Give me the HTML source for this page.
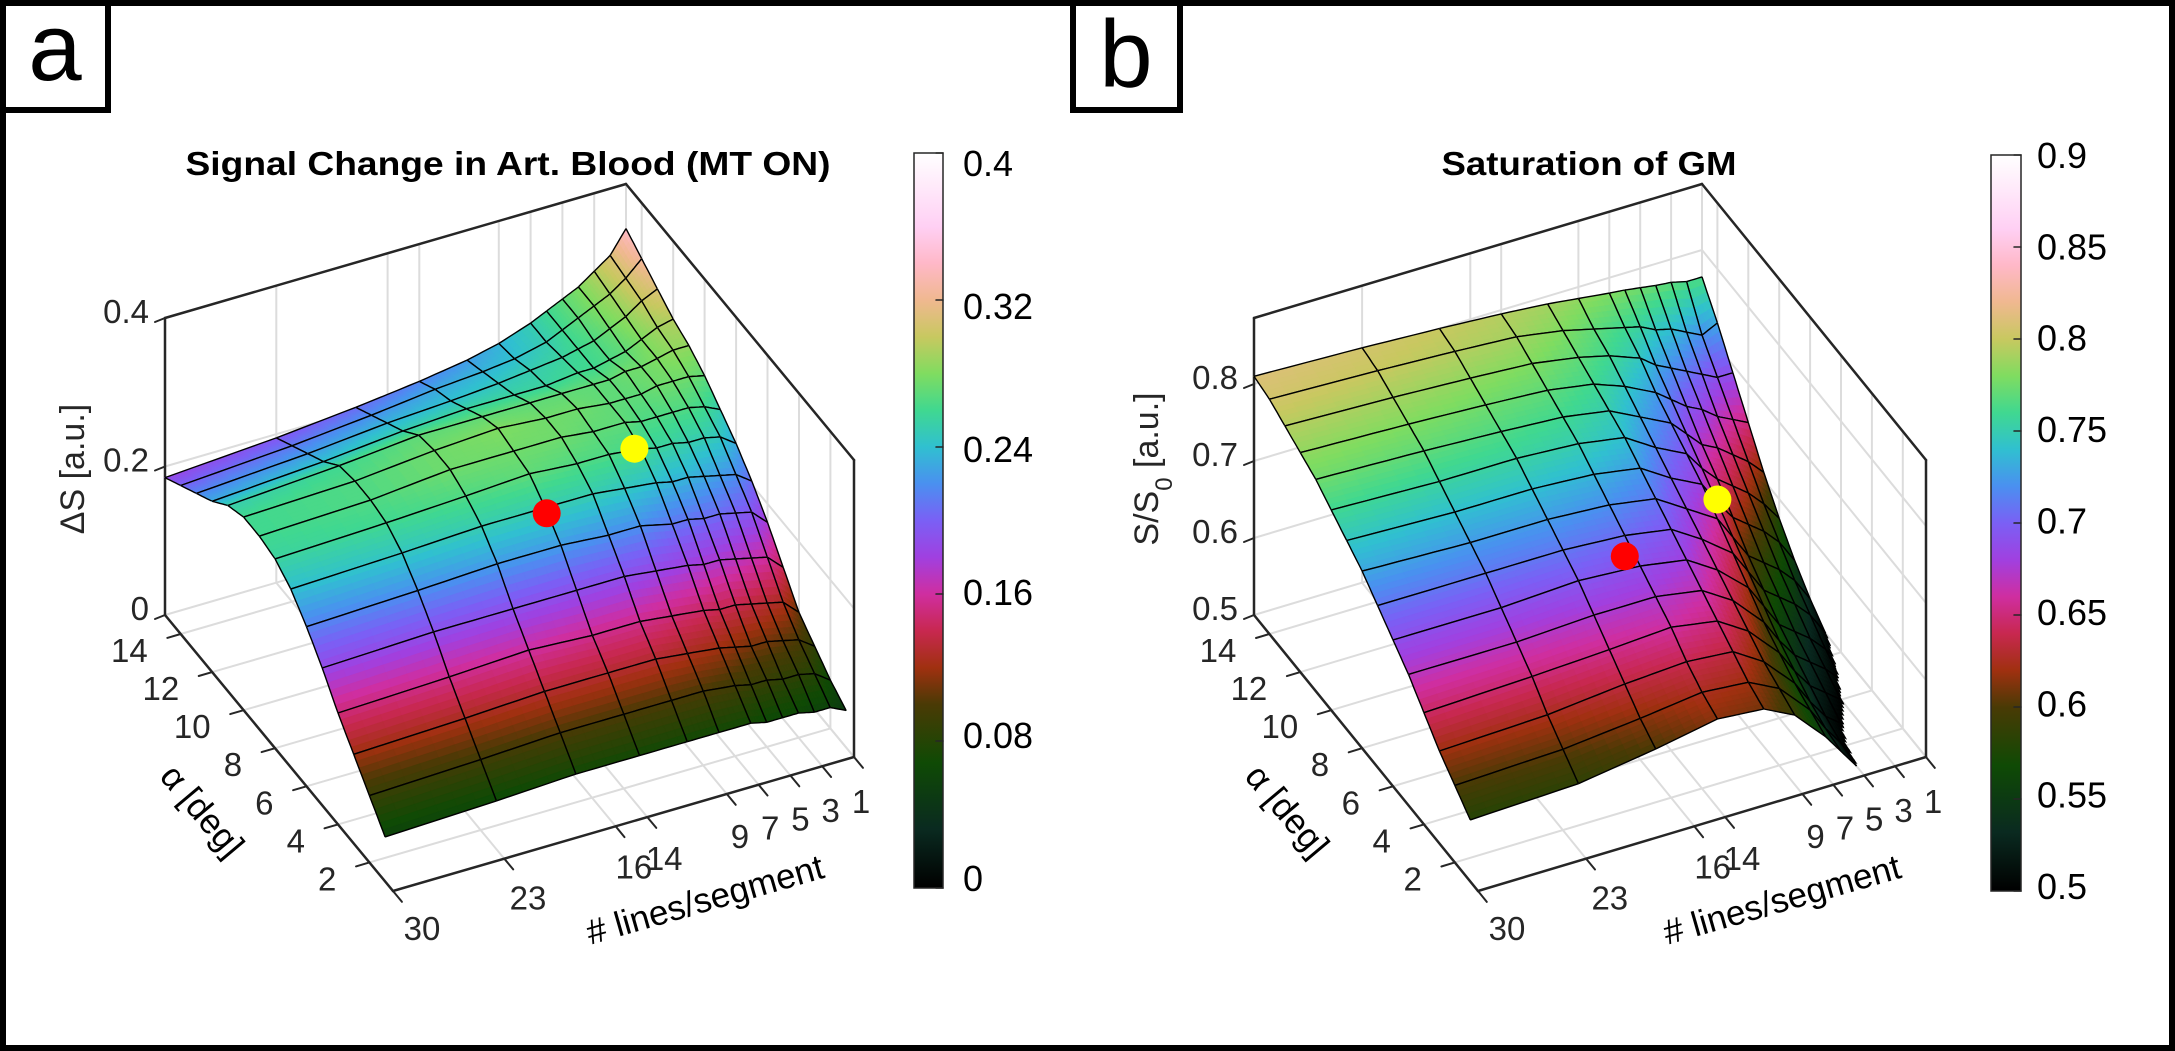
<!DOCTYPE html>
<html><head><meta charset="utf-8"><style>
html,body{margin:0;padding:0;background:#fff;}
svg{display:block;font-family:"Liberation Sans",Arial,sans-serif;}
</style></head><body>
<svg id="fig" width="2175" height="1051" viewBox="0 0 2175 1051" xmlns="http://www.w3.org/2000/svg">
<defs>
<linearGradient id="cbgrad" x1="0" y1="1" x2="0" y2="0">
<stop offset="0" stop-color="#000000"/><stop offset="0.08" stop-color="#0a2a20"/><stop offset="0.17" stop-color="#0f4a05"/><stop offset="0.25" stop-color="#4a3a05"/><stop offset="0.30" stop-color="#a03010"/><stop offset="0.35" stop-color="#c82850"/><stop offset="0.40" stop-color="#cf2ea0"/><stop offset="0.45" stop-color="#a040e0"/><stop offset="0.50" stop-color="#7a60f5"/><stop offset="0.55" stop-color="#4a90f0"/><stop offset="0.60" stop-color="#30c0d0"/><stop offset="0.65" stop-color="#40d890"/><stop offset="0.70" stop-color="#80dc60"/><stop offset="0.75" stop-color="#c8c860"/><stop offset="0.80" stop-color="#f0b890"/><stop offset="0.85" stop-color="#ffb8c8"/><stop offset="0.90" stop-color="#ffd0f4"/><stop offset="1" stop-color="#ffffff"/>
</linearGradient>
</defs>
<rect x="3" y="3" width="2169" height="1045" fill="none" stroke="#000" stroke-width="6"/>
<rect x="3" y="3" width="105" height="107" fill="#fff" stroke="#000" stroke-width="6"/>
<text x="55" y="80" font-size="96" text-anchor="middle">a</text>
<rect x="1073" y="3" width="107" height="107" fill="#fff" stroke="#000" stroke-width="6"/>
<text x="1126" y="87" font-size="96" text-anchor="middle">b</text>
<text x="508" y="175" font-size="33" font-weight="bold" text-anchor="middle" textLength="645" lengthAdjust="spacingAndGlyphs">Signal Change in Art. Blood (MT ON)</text>
<text x="1589" y="175" font-size="33" font-weight="bold" text-anchor="middle" textLength="295" lengthAdjust="spacingAndGlyphs">Saturation of GM</text>
<text transform="translate(84,469) rotate(-90)" font-size="34" fill="#262626" text-anchor="middle">ΔS [a.u.]</text>
<text transform="translate(1158,469) rotate(-90)" font-size="34" fill="#262626" text-anchor="middle">S/S<tspan baseline-shift="sub" font-size="24">0</tspan> [a.u.]</text>
<text transform="translate(202,811) rotate(50)" font-size="35" fill="#000" text-anchor="middle" dominant-baseline="central">α [deg]</text>
<text transform="translate(1287,811) rotate(50)" font-size="35" fill="#000" text-anchor="middle" dominant-baseline="central">α [deg]</text>
<text transform="translate(705,900) rotate(-16)" font-size="35" fill="#000" text-anchor="middle" dominant-baseline="central"># lines/segment</text>
<text transform="translate(1782,900) rotate(-16)" font-size="35" fill="#000" text-anchor="middle" dominant-baseline="central"># lines/segment</text>
<g id="pa"></g>
<g id="pb"></g>
</svg>
<script>
// ---- data ----
const nVals = [1,2,3,4,5,6,7,9,11,14,18,23,30];
const alphaVals = [1,2,3,4,5,6,7,8,9,10,11,12,13,14,15];
// panel a: columns (per n) of ΔS over alpha 1..15
const dsN1  = [.05,.065,.085,.105,.14,.175,.205,.23,.25,.27,.285,.295,.31,.325,.34];
const dsN2  = [.06,.08,.10,.125,.16,.195,.22,.245,.26,.275,.285,.29,.30,.305,.31];
const dsN3  = [.06,.085,.105,.13,.165,.20,.225,.25,.265,.275,.28,.28,.285,.29,.295];
const dsN4  = [.065,.085,.11,.135,.17,.205,.23,.25,.265,.275,.275,.27,.275,.28,.28];
const dsN5  = [.065,.09,.11,.14,.175,.205,.235,.255,.265,.27,.275,.265,.265,.27,.27];
const dsN6  = [.065,.09,.115,.14,.175,.21,.235,.255,.265,.27,.27,.26,.26,.26,.26];
const dsN7  = [.07,.095,.12,.145,.18,.21,.24,.26,.27,.27,.27,.26,.255,.25,.25];
const dsN9  = [.07,.10,.125,.15,.185,.22,.245,.265,.27,.275,.27,.255,.25,.24,.235];
const dsN11 = [.07,.10,.13,.155,.19,.22,.25,.265,.275,.275,.27,.255,.245,.235,.225];
const dsN14 = [.07,.10,.13,.155,.19,.225,.25,.27,.275,.28,.27,.255,.24,.23,.215];
const dsN18 = [.07,.10,.13,.16,.19,.225,.25,.265,.275,.275,.27,.25,.235,.22,.205];
const dsN23 = [.065,.095,.125,.155,.19,.22,.245,.26,.265,.265,.26,.24,.225,.21,.195];
const dsN30 = [.06,.09,.12,.15,.185,.215,.24,.255,.26,.26,.25,.23,.215,.20,.185];
// panel b: columns (per n) of S/S0 over alpha 1..15
const ssN1  = [.43,.44,.45,.46,.47,.485,.50,.52,.545,.575,.61,.65,.69,.73,.765];
const ssN2  = [.45,.46,.47,.48,.495,.51,.53,.55,.575,.60,.63,.66,.69,.72,.765];
const ssN3  = [.47,.48,.49,.50,.515,.53,.55,.57,.595,.62,.645,.67,.70,.73,.77];
const ssN4  = [.485,.49,.50,.515,.53,.545,.565,.585,.61,.635,.66,.685,.71,.74,.772];
const ssN5  = [.50,.505,.515,.53,.545,.56,.58,.60,.625,.65,.67,.695,.72,.745,.775];
const ssN6  = [.525,.53,.54,.555,.57,.59,.61,.63,.65,.67,.69,.71,.73,.755,.778];
const ssN7  = [.55,.56,.57,.585,.60,.62,.64,.66,.68,.695,.71,.725,.745,.76,.78];
const ssN9  = [.59,.60,.61,.625,.64,.655,.67,.685,.70,.715,.73,.745,.76,.77,.785];
const ssN11 = [.61,.62,.635,.65,.665,.68,.695,.71,.725,.74,.75,.76,.77,.78,.79];
const ssN14 = [.615,.625,.64,.66,.675,.69,.705,.72,.735,.75,.76,.77,.78,.79,.795];
const ssN18 = [.60,.615,.635,.655,.675,.695,.71,.725,.74,.755,.765,.775,.785,.795,.80];
const ssN23 = [.585,.605,.625,.65,.67,.69,.71,.725,.74,.755,.77,.78,.79,.80,.805];
const ssN30 = [.58,.60,.62,.645,.67,.69,.71,.73,.745,.76,.775,.785,.795,.805,.81];
// ticks
const nTicks = [30,23,16,14,9,7,5,3,1];
const alphaTicks = [2,4,6,8,10,12,14];
const zTicksA = [0,0.2,0.4];
const zTickLabelsA = ["0","0.2","0.4"];
const zTicksB = [0.5,0.6,0.7,0.8];
const zTickLabelsB = ["0.5","0.6","0.7","0.8"];
const cbTicksA = [0,0.08,0.16,0.24,0.32,0.4];
const cbLabelsA = ["0","0.08","0.16","0.24","0.32","0.4"];
const cbTicksB = [0.5,0.55,0.6,0.65,0.7,0.75,0.8,0.85,0.9];
const cbLabelsB = ["0.5","0.55","0.6","0.65","0.7","0.75","0.8","0.85","0.9"];
// marker points
const dotsN_A = [14,7];
const dotsAlpha_A = [6.9,8.4];
const dotsZ_A = [0.245,0.25];
const dotsN_B = [14,7];
const dotsAlpha_B = [7.0,8.0];
const dotsZ_B = [0.678,0.685];
const dotColors = ["#ff0000","#ffff00"];

const colsA = [dsN1,dsN2,dsN3,dsN4,dsN5,dsN6,dsN7,dsN9,dsN11,dsN14,dsN18,dsN23,dsN30];
const colsB = [ssN1,ssN2,ssN3,ssN4,ssN5,ssN6,ssN7,ssN9,ssN11,ssN14,ssN18,ssN23,ssN30];

const NS = "http://www.w3.org/2000/svg";
const cmapStops = [[0,"#000000"],[0.08,"#0a2a20"],[0.17,"#0f4a05"],[0.25,"#4a3a05"],[0.30,"#a03010"],[0.35,"#c82850"],[0.40,"#cf2ea0"],[0.45,"#a040e0"],[0.50,"#7a60f5"],[0.55,"#4a90f0"],[0.60,"#30c0d0"],[0.65,"#40d890"],[0.70,"#80dc60"],[0.75,"#c8c860"],[0.80,"#f0b890"],[0.85,"#ffb8c8"],[0.90,"#ffd0f4"],[1,"#ffffff"]];
function hx(h){return [parseInt(h.substr(1,2),16),parseInt(h.substr(3,2),16),parseInt(h.substr(5,2),16)];}
function cmap(t){
  t=Math.max(0,Math.min(1,t));
  for(let i=0;i<cmapStops.length-1;i++){
    const a=cmapStops[i],b=cmapStops[i+1];
    if(t<=b[0]){const f=(t-a[0])/(b[0]-a[0]);const ca=hx(a[1]),cb=hx(b[1]);
      return "rgb("+ca.map((c,k)=>Math.round(c+(cb[k]-c)*f)).join(",")+")";}
  }
  return "#ffffff";
}
function mk(tag,parent,attrs){const e=document.createElementNS(NS,tag);for(const k in attrs)e.setAttribute(k,attrs[k]);parent.appendChild(e);return e;}

function drawPanel(g,cfg,cols,zTicks,zLabels,cbTicks,cbLabels,dN,dA,dZ){
  const F=cfg.F,R=cfg.R,L=cfg.L;
  const aLo=0.5,aHi=15;
  function uv(n,a){return [(30-n)/29,(a-aLo)/(aHi-aLo)];}
  function proj(n,a,z){const [u,v]=uv(n,a);
    return [F[0]+u*(R[0]-F[0])+v*(L[0]-F[0]), F[1]+u*(R[1]-F[1])+v*(L[1]-F[1])-(z-cfg.zMin)/(cfg.zMax-cfg.zMin)*cfg.H];}
  const grid="#dcdcdc";
  function line(p,q,col,w,name){const l=mk('line',g,{x1:p[0].toFixed(1),y1:p[1].toFixed(1),x2:q[0].toFixed(1),y2:q[1].toFixed(1),stroke:col,'stroke-width':w,'stroke-linecap':'round'});
    
    return l;}
  nTicks.forEach(n=>{line(proj(n,aLo,cfg.zMin),proj(n,aHi,cfg.zMin),grid,2,'floor-grid-line');
    line(proj(n,aHi,cfg.zMin),proj(n,aHi,cfg.zMax),grid,2,'back-wall-grid-line');});
  alphaTicks.forEach(a=>{line(proj(30,a,cfg.zMin),proj(1,a,cfg.zMin),grid,2,'floor-grid-line');
    line(proj(1,a,cfg.zMin),proj(1,a,cfg.zMax),grid,2,'side-wall-grid-line');});
  zTicks.forEach(z=>{line(proj(30,aHi,z),proj(1,aHi,z),grid,2,'back-wall-grid-line');
    line(proj(1,aHi,z),proj(1,aLo,z),grid,2,'side-wall-grid-line');});
  const ax="#262626";
  line(proj(30,aHi,cfg.zMin),proj(30,aHi,cfg.zMax),ax,2.5,'z-axis-line');
  line(proj(30,aHi,cfg.zMax),proj(1,aHi,cfg.zMax),ax,2.5,'box-edge');
  line(proj(1,aHi,cfg.zMax),proj(1,aLo,cfg.zMax),ax,2.5,'box-edge');
  line(proj(1,aLo,cfg.zMin),proj(1,aLo,cfg.zMax),ax,2.5,'box-edge');
  line(proj(30,aHi,cfg.zMin),proj(30,aLo,cfg.zMin),ax,2.5,'alpha-axis-line');
  line(proj(30,aLo,cfg.zMin),proj(1,aLo,cfg.zMin),ax,2.5,'lines-axis-line');
  const dRF=[R[0]-F[0],R[1]-F[1]],dLF=[L[0]-F[0],L[1]-F[1]];
  const nRF=Math.hypot(...dRF),nLF=Math.hypot(...dLF);
  zTicks.forEach((z,i)=>{const p=proj(30,aHi,z);
    line(p,[p[0]-10,p[1]+4],ax,2,'z-tick');
    const t=mk('text',g,{x:(p[0]-16).toFixed(1),y:(p[1]+5).toFixed(1),'font-size':33,fill:ax,'text-anchor':'end'});
    
    
    t.textContent=zLabels[i];});
  alphaTicks.forEach(a=>{const p=proj(30,a,cfg.zMin);
    line(p,[p[0]-dRF[0]/nRF*14,p[1]-dRF[1]/nRF*14],ax,2,'alpha-tick');
    const t=mk('text',g,{x:(p[0]-33).toFixed(1),y:(p[1]+28).toFixed(1),'font-size':33,fill:ax,'text-anchor':'end'});
    
    
    t.textContent=String(a);});
  nTicks.forEach(n=>{const p=proj(n,aLo,cfg.zMin);const u=(30-n)/29;
    line(p,[p[0]-dLF[0]/nLF*14,p[1]-dLF[1]/nLF*14],ax,2,'lines-tick');
    const t=mk('text',g,{x:(p[0]+29-22*u).toFixed(1),y:(p[1]+49+7*u).toFixed(1),'font-size':33,fill:ax,'text-anchor':'middle'});
    
    
    t.textContent=String(n);});
  const quads=[];
  for(let i=0;i<alphaVals.length-1;i++)for(let j=0;j<nVals.length-1;j++){
    const [u,v]=uv((nVals[j]+nVals[j+1])/2,(alphaVals[i]+alphaVals[i+1])/2);
    quads.push({i,j,d:134*u+276*v});}
  quads.sort((a,b)=>b.d-a.d);
  const S=6;
  quads.forEach(q=>{const {i,j}=q;
    const z00=cols[j][i],z01=cols[j+1][i],z10=cols[j][i+1],z11=cols[j+1][i+1];
    const n0=nVals[j],n1=nVals[j+1],a0=alphaVals[i],a1=alphaVals[i+1];
    function pt(fa,fn){const z=z00*(1-fa)*(1-fn)+z01*(1-fa)*fn+z10*fa*(1-fn)+z11*fa*fn;
      return [proj(n0+(n1-n0)*fn,a0+(a1-a0)*fa,z),z];}
    for(let si=S-1;si>=0;si--)for(let sj=0;sj<S;sj++){
      const A=pt(si/S,sj/S),B=pt(si/S,(sj+1)/S),C=pt((si+1)/S,(sj+1)/S),D=pt((si+1)/S,sj/S);
      const zc=(A[1]+B[1]+C[1]+D[1])/4;
      if(zc<cfg.zMin) continue;
      const col=cmap((zc-cfg.cMin)/(cfg.cMax-cfg.cMin));
      const pg=mk('polygon',g,{points:[A,B,C,D].map(p=>p[0][0].toFixed(1)+","+p[0][1].toFixed(1)).join(" "),fill:col,stroke:col,'stroke-width':0.8});
      
      
    }
    const edges=[[[0,0],[0,1]],[[0,1],[1,1]],[[1,1],[1,0]],[[1,0],[0,0]]];
    edges.forEach(e=>{
      let d="";let pen=false;
      for(let k=0;k<=S;k++){const f=k/S;
        const fa=e[0][0]+(e[1][0]-e[0][0])*f, fn=e[0][1]+(e[1][1]-e[0][1])*f;
        const P=pt(fa,fn);
        if(P[1]<cfg.zMin-0.002){pen=false;continue;}
        d+=(pen?"L":"M")+P[0][0].toFixed(1)+","+P[0][1].toFixed(1);pen=true;}
      if(d){const o=mk('path',g,{d:d,fill:'none',stroke:'#000','stroke-width':1.4,'stroke-linejoin':'round'});
        
        }
    });
  });
  dN.forEach((n,k)=>{const p=proj(n,dA[k],dZ[k]);
    const c=mk('circle',g,{cx:p[0].toFixed(1),cy:p[1].toFixed(1),r:14,fill:dotColors[k]});
    
    });
  const cb=cfg.cb;
  const r=mk('rect',g,{x:cb.x,y:cb.y0,width:cb.w,height:cb.y1-cb.y0,fill:'url(#cbgrad)',stroke:ax,'stroke-width':1.5});
  
  
  cbTicks.forEach((v,k)=>{const f=(v-cfg.cMin)/(cfg.cMax-cfg.cMin);
    const y=cb.y1-f*(cb.y1-cb.y0);const ly=cb.l1-f*(cb.l1-cb.l0);
    line([cb.x+cb.w-7,y],[cb.x+cb.w,y],ax,1.5,'colorbar-tick');
    const t=mk('text',g,{x:cb.lx,y:(ly+13).toFixed(1),'font-size':36,fill:'#000'});
    
    
    t.textContent=cbLabels[k];});
}
const cfgA={F:[393,891],R:[854,757],L:[165,615],H:297,zMin:0,zMax:0.4,cMin:0,cMax:0.4,
  cb:{x:914,w:29,y0:153,y1:888,l0:163,l1:878,lx:963}};
const cfgB={F:[1478,891],R:[1926,757],L:[1254,615],H:297,zMin:0.5,zMax:0.8857,cMin:0.5,cMax:0.9,
  cb:{x:1991,w:30,y0:155,y1:891,l0:155,l1:886,lx:2037}};
drawPanel(document.getElementById('pa'),cfgA,colsA,zTicksA,zTickLabelsA,cbTicksA,cbLabelsA,dotsN_A,dotsAlpha_A,dotsZ_A);
drawPanel(document.getElementById('pb'),cfgB,colsB,zTicksB,zTickLabelsB,cbTicksB,cbLabelsB,dotsN_B,dotsAlpha_B,dotsZ_B);
</script>
</body></html>
